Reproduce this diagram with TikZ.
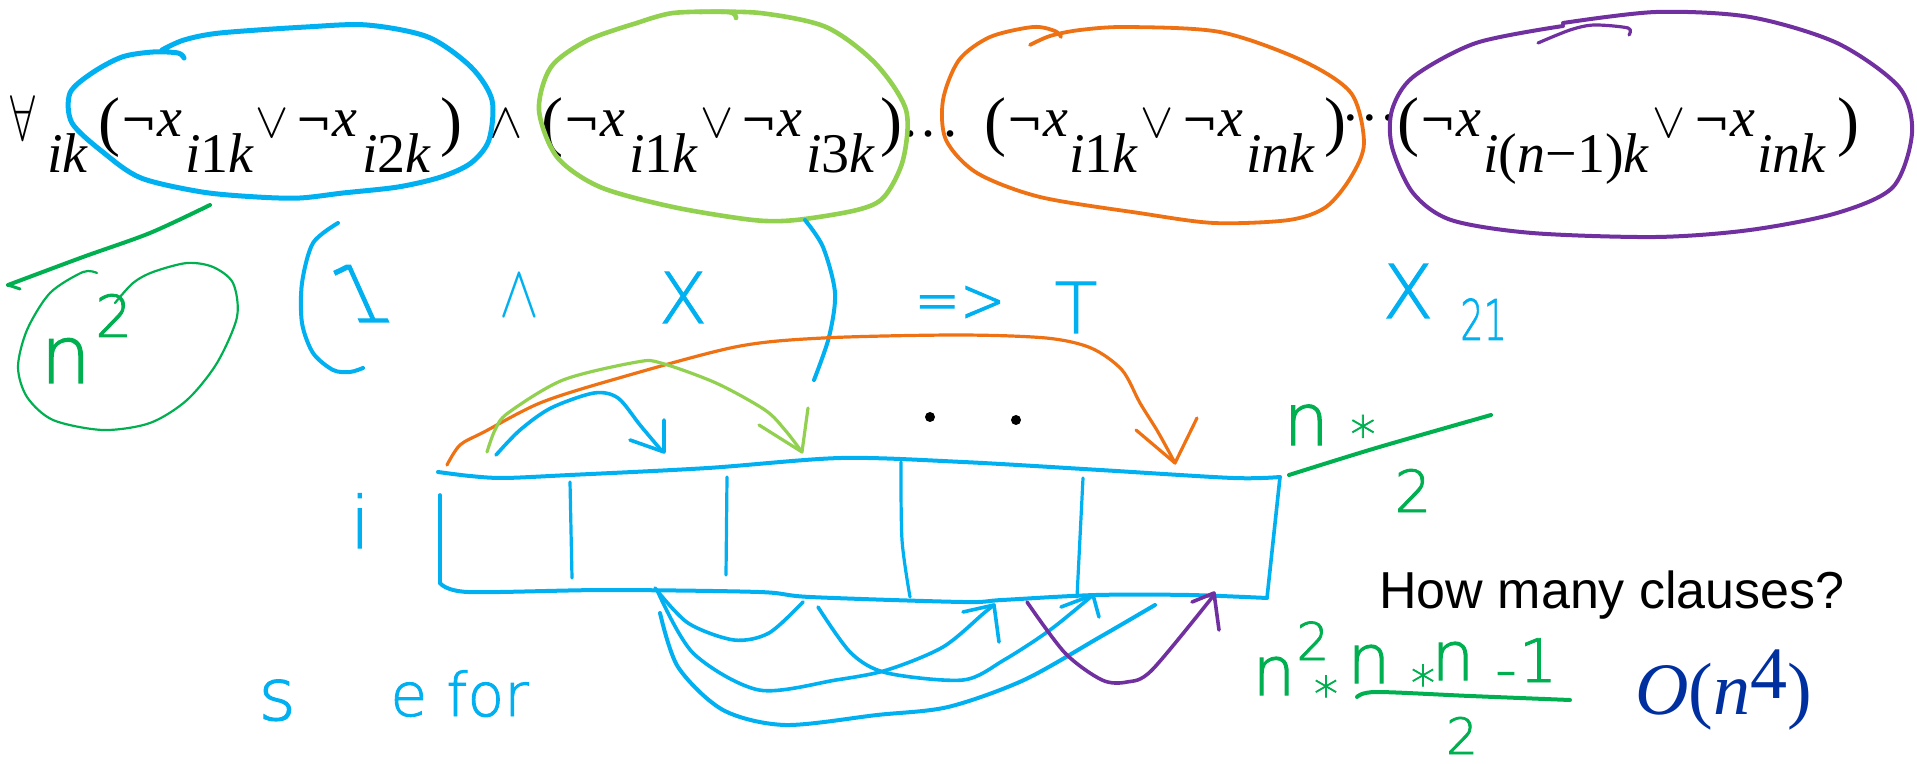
\documentclass[tikz,border=0pt]{standalone}
\usepackage{fontspec}
\usepackage{graphicx}
\setmainfont{Liberation Serif}
\newfontfamily\arialfont{Liberation Sans}
\newfontfamily\symf{DejaVu Serif}
\newfontfamily\hand[FakeBold=1.5]{DejaVuSans-ExtraLight.ttf}
\definecolor{inkblue}{HTML}{00B0F0}
\definecolor{inklgreen}{HTML}{92D050}
\definecolor{inkgreen}{HTML}{00B050}
\definecolor{inkorange}{HTML}{EE7214}
\definecolor{inkpurple}{HTML}{7030A0}
\definecolor{navyblue}{HTML}{0030A0}
\newcommand{\fsz}[1]{\fontsize{#1}{#1}\selectfont}
\newcommand{\nx}{{\symf\fsz{22}¬}\textit{x}}
\tikzset{
  ink/.style={line cap=round,line join=round},
  bink/.style={ink,draw=inkblue,line width=2pt},
  lgink/.style={ink,draw=inklgreen,line width=2pt},
  gink/.style={ink,draw=inkgreen,line width=2pt},
  oink/.style={ink,draw=inkorange,line width=1.6pt},
  pink/.style={ink,draw=inkpurple,line width=1.8pt},
  fm/.style={inner sep=0pt,anchor=base west,font=\fsz{28}},
  fsub/.style={fm},
  fpar/.style={inner sep=0pt,anchor=base west,font=\fsz{33}},
  fsym/.style={inner sep=0pt,anchor=base,font=\fsz{24.88}},
  hw/.style={inner sep=0pt,font=\hand},
}
\begin{document}
\begin{tikzpicture}[x=0.5pt,y=-0.5pt]
\useasboundingbox (0,0) rectangle (1917,764);

% ---------------- formula ----------------
\node[fsym] (fa) at (23,141) {\scalebox{0.9}[1.3]{$\forall$}};
\node[fsub] (s1) at (47,173) {\textit{ik}};
\node[fpar] (p1) at (98,144) {(};
\node[fm] (n1) at (120,137) {\nx};
\node[fsub] (s2) at (185,173) {\textit{i}1\textit{k}};
\node[fsym] (v1) at (272,138) {$\vee$};
\node[fm] (n2) at (295,137) {\nx};
\node[fsub] (s3) at (362,173) {\textit{i}2\textit{k}};
\node[fpar] (p2) at (440,144) {)};
\node[fsym] (w1) at (506,138) {$\wedge$};
\node[fpar] (p3) at (541,144) {(};
\node[fm] (n3) at (563,137) {\nx};
\node[fsub] (s4) at (629,173) {\textit{i}1\textit{k}};
\node[fsym] (v2) at (717,138) {$\vee$};
\node[fm] (n4) at (740,137) {\nx};
\node[fsub] (s5) at (806,173) {\textit{i}3\textit{k}};
\node[fpar] (p4) at (880,144) {)};
\node[fm,anchor=base] (d1) at (910,137) {.};
\node[fm,anchor=base] (d2) at (928,137) {.};
\node[fm,anchor=base] (d3) at (950,137) {.};
\node[fpar] (p5) at (984,144) {(};
\node[fm] (n5) at (1006,137) {\nx};
\node[fsub] (s6) at (1069,173) {\textit{i}1\textit{k}};
\node[fsym] (v3) at (1157,138) {$\vee$};
\node[fm] (n6) at (1181,137) {\nx};
\node[fsub] (s7) at (1246,173) {\textit{ink}};
\node[fpar] (p6) at (1324,144) {)};
\node[fm,anchor=base] (c1) at (1351,137) {·};
\node[fm,anchor=base] (c2) at (1370,137) {·};
\node[fm,anchor=base] (c3) at (1389,137) {·};
\node[fpar] (p7) at (1397,144) {(};
\node[fm] (n7) at (1419,137) {\nx};
\node[fsub] (s8) at (1483,173) {\textit{i}(\textit{n}−1)\textit{k}};
\node[fsym] (v4) at (1669,138) {$\vee$};
\node[fm] (n8) at (1693,137) {\nx};
\node[fsub] (s9) at (1757,173) {\textit{ink}};
\node[fpar] (p8) at (1837,144) {)};

% ---------------- loops round the clauses ----------------
\draw[bink,line width=2.5pt] plot[smooth] coordinates {(162,50) (184,40) (220,33) (306,27) (367,25) (428,37) (471,67) (492,100) (489,140) (471,163) (441,177) (398,187) (343,193) (300,198) (257,197) (202,192) (141,178) (104,153) (72,123) (70,93) (92,73) (122,57) (153,52) (178,53) (184,58)};
\draw[lgink,line width=2.3pt] plot[smooth] coordinates {(637,23) (673,13) (728,12) (736,18)};
\draw[lgink,line width=2.3pt] plot[smooth] coordinates {(637,23) (588,40) (551,67) (539,110) (557,157) (600,187) (673,207) (753,220) (796,220) (857,210) (884,197) (903,160) (906,110) (875,63) (826,27) (760,13) (700,12)};
\draw[oink,line width=1.9pt] plot[smooth] coordinates {(1030,45) (1050,36) (1080,30) (1127,27) (1220,32) (1301,60) (1351,93) (1364,143) (1351,177) (1326,207) (1289,220) (1214,223) (1139,213) (1040,197) (977,173) (946,140) (943,100) (959,60) (990,37) (1033,27) (1055,31) (1061,37)};
\draw[pink,line width=1.6pt] plot[smooth] coordinates {(1538,43) (1570,30) (1594,25) (1628,28) (1629,35)};
\draw[pink,line width=2pt] plot[smooth] coordinates {(1563,23) (1656,12) (1750,17) (1837,43) (1899,87) (1912,133) (1893,187) (1837,213) (1750,230) (1656,237) (1532,233) (1451,220) (1413,193) (1392,147) (1392,110) (1413,77) (1476,43) (1563,26)};

% ---------------- left: n^2 ----------------
\draw[gink] plot[smooth] coordinates {(210,205) (150,233) (83,257) (8,285)};
\draw[gink,line width=1.5pt] (8,285) -- (20,289);
\draw[gink,line width=1.1pt] plot[smooth] coordinates {(115,303) (133,283) (153,272) (187,263) (213,267) (233,283) (237,317) (217,363) (187,400) (150,423) (103,430) (53,420) (27,397) (18,367) (27,330) (50,293) (83,272) (97,273)};
\node[hw,text=inkgreen,anchor=base west] (nsq) at (40,383) {\fsz{40}n};
\node[hw,text=inkgreen,anchor=base west] (nsqe) at (95,337) {\fsz{29}2};

% ---------------- middle row ----------------
\draw[bink] plot[smooth] coordinates {(338,223) (313,243) (302,283) (302,323) (313,353) (333,370) (350,372) (363,368)};
\node[hw,text=inkblue,anchor=base,transform shape,xslant=-0.45] (one) at (373,322) {\fsz{39}1};
\node[inner sep=0pt,text=inkblue,anchor=base,font=\fsz{24.88}] (andh) at (519,317) {\scalebox{1.2}[1.5]{$\wedge$}};
\node[hw,text=inkblue,anchor=base] (xa) at (683,323) {\fsz{35}X};
\node[hw,text=inkblue,anchor=base] (impl) at (960,322) {\fsz{32}\scalebox{0.85}[1]{=>}};
\node[hw,text=inkblue,anchor=base] (tt) at (1076,333) {\fsz{35}T};
\node[hw,text=inkblue,anchor=base] (xb) at (1408,318) {\fsz{37}X};
\node[hw,text=inkblue,anchor=base west] (xsub) at (1460,340) {\fsz{28}\scalebox{0.65}[1]{21}};
\draw[bink] plot[smooth] coordinates {(805,220) (823,247) (835,293) (829,337) (814,380)};

% ---------------- arrows above the box ----------------
\draw[oink] plot[smooth] coordinates {(447,465) (460,445) (484,432) (540,403) (612,380) (735,347) (823,338) (957,335) (1046,338) (1091,348) (1122,370) (1140,403) (1158,432) (1175,463)};
\draw[oink] (1136,430) -- (1175,463) -- (1197,418);
\draw[lgink,line width=1.6pt] plot[smooth] coordinates {(487,452) (495,430) (508,413) (563,380) (637,362) (661,363) (716,383) (765,410) (785,430) (802,452)};
\draw[lgink,line width=1.6pt] (759,425) -- (802,452) -- (808,408);
\draw[bink,line width=1.8pt] plot[smooth] coordinates {(496,455) (520,430) (551,408) (594,393) (618,398) (640,425) (661,450)};
\draw[bink,line width=1.8pt] (630,440) -- (664,452) -- (664,420);
\fill (930,417) circle[radius=2.5pt];
\fill (1016,420) circle[radius=2.5pt];

% ---------------- the box ----------------
\node[hw,text=inkblue,anchor=base] (ilabel) at (360,548) {\fsz{36}i};
\draw[bink] plot[smooth] coordinates {(438,472) (470,476) (504,478) (570,475) (708,468) (841,458) (963,462) (1100,470) (1233,478) (1280,477)};
\draw[bink,line width=1.8pt] (1280,477) -- (1267,598);
\draw[bink,line width=1.8pt] (440,495) -- (440,583);
\draw[bink] plot[smooth] coordinates {(440,583) (468,592) (606,590) (759,592) (810,597) (963,602) (1002,600) (1096,595) (1189,595) (1267,598)};
\draw[bink,line width=1.6pt] (570,482) -- (572,578);
\draw[bink,line width=1.6pt] (727,477) -- (726,575);
\draw[bink,line width=1.6pt] plot[smooth] coordinates {(901,462) (902,540) (910,597)};
\draw[bink,line width=1.6pt] (1083,478) -- (1077,597);

% ---------------- arrows below the box ----------------
\draw[bink,line width=1.8pt] plot[smooth] coordinates {(655,588) (688,623) (734,640) (769,633) (803,602)};
\draw[bink,line width=1.8pt] plot[smooth] coordinates {(657,590) (693,653) (759,690) (836,680) (887,670) (943,647) (984,613) (994,605)};
\draw[bink,line width=1.8pt] (963,612) -- (994,605) -- (999,642);
\draw[bink,line width=1.8pt] plot[smooth] coordinates {(818,607) (851,653) (887,673) (963,680) (1004,660) (1050,630) (1093,595)};
\draw[bink,line width=1.8pt] (1061,607) -- (1093,595) -- (1099,617);
\draw[bink,line width=2pt] plot[smooth] coordinates {(660,613) (678,667) (723,710) (785,725) (877,715) (948,707) (1024,680) (1100,637) (1155,605)};
\draw[pink] plot[smooth] coordinates {(1027,602) (1065,653) (1102,680) (1127,682) (1152,670) (1214,595)};
\draw[pink] (1192,602) -- (1214,593) -- (1219,630);

\node[hw,text=inkblue,anchor=base west] (sl) at (258,720) {\fsz{36}s};
\node[hw,text=inkblue,anchor=base west] (efor) at (390,716) {\fsz{30}e for};

% ---------------- right side ----------------
\draw[gink] plot[smooth] coordinates {(1289,475) (1376,448) (1491,415)};
\node[hw,text=inkgreen,anchor=base west] (nst) at (1283,445) {\fsz{36}n};
\node[hw,text=inkgreen,anchor=base] (nstar) at (1363,452) {\fsz{25}*};
\node[hw,text=inkgreen,anchor=base] (two) at (1413,512) {\fsz{29}2};

\node[inner sep=0pt,anchor=base west,font=\arialfont\fsz{26}] (q) at (1379,608) {How many clauses?};

\node[hw,text=inkgreen,anchor=base west] (b1) at (1252,695) {\fsz{34}n};
\node[hw,text=inkgreen,anchor=base west] (b2) at (1296,660) {\fsz{26}2};
\node[hw,text=inkgreen,anchor=base] (b3) at (1326,711) {\fsz{24}*};
\node[hw,text=inkgreen,anchor=base west] (b4) at (1347,683) {\fsz{34}n};
\node[hw,text=inkgreen,anchor=base] (b5) at (1423,700) {\fsz{24}*};
\node[hw,text=inkgreen,anchor=base west] (b6) at (1431,680) {\fsz{34}n};
\node[hw,text=inkgreen,anchor=base] (b7) at (1506,690) {\fsz{30}-};
\node[hw,text=inkgreen,anchor=base] (b8) at (1538,682) {\fsz{30}1};
\draw[gink] plot[smooth] coordinates {(1357,697) (1376,692) (1470,696) (1570,700)};
\node[hw,text=inkgreen,anchor=base] (b9) at (1462,754) {\fsz{25}2};

\node[inner sep=0pt,anchor=base west,text=navyblue,font=\fsz{37}] (big) at (1635,714) {\textit{O}(\textit{n}\raisebox{8pt}{4})};
\end{tikzpicture}
\end{document}
